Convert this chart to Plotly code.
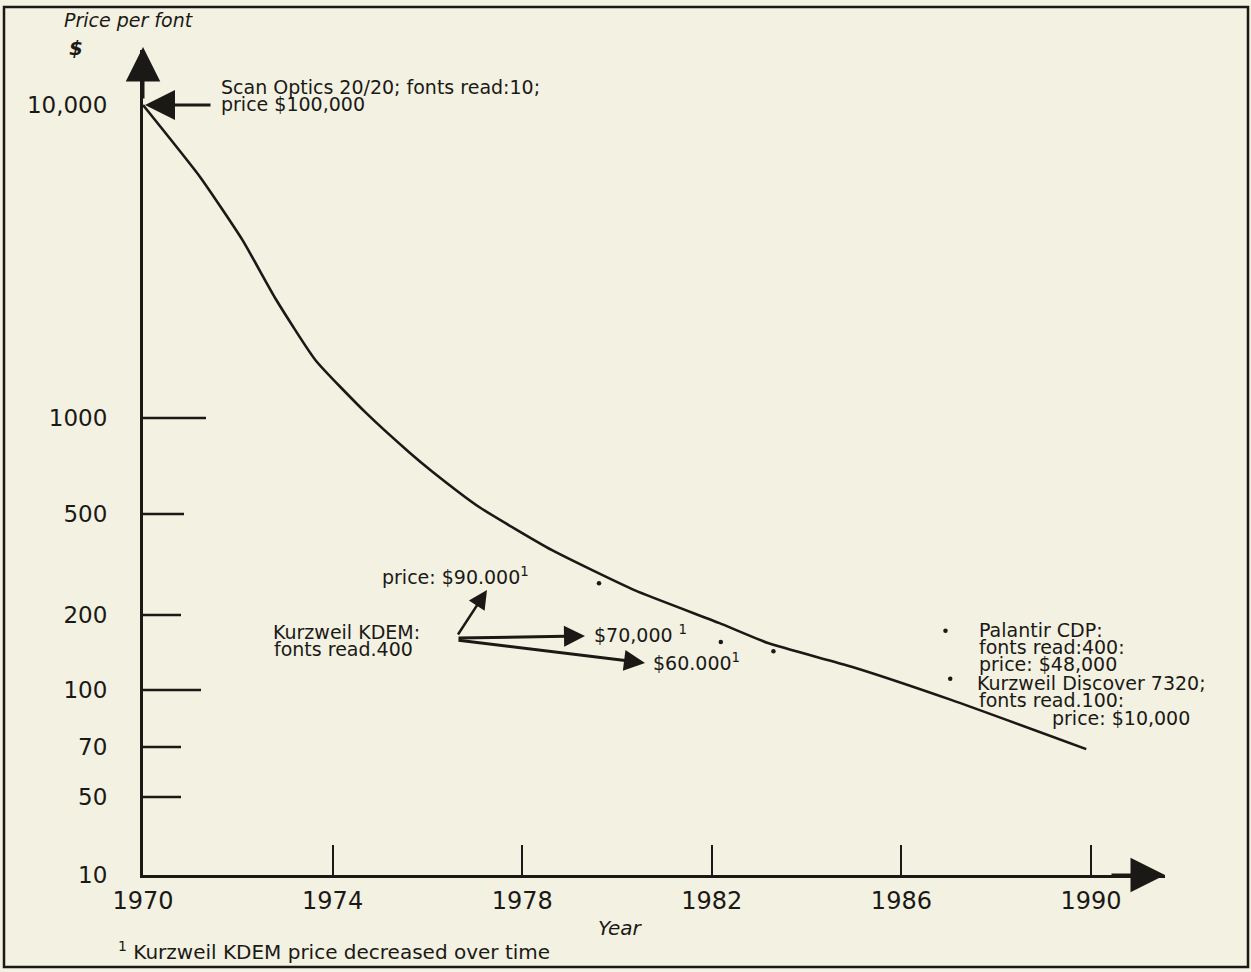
import numpy as np
import plotly.graph_objects as go

# ---------------- data ----------------
# hand-drawn (non-uniform) price axis: tick values, labels, and their level on the axis
PRICE_TICKS = [10, 50, 70, 100, 200, 500, 1000, 10000]
PRICE_TICK_LABELS = ["10", "50", "70", "100", "200", "500", "1000", "10,000"]
PRICE_TICK_LEVELS = [0, 78, 128, 185, 260, 361, 457, 770]

YEAR_TICKS = [1970, 1974, 1978, 1982, 1986, 1990]

curve_years = [1970.0, 1971.2, 1972.1, 1972.8, 1973.64, 1974.7, 1975.62,
               1976.1, 1977.1, 1978.63, 1980.38, 1982.15, 1983.2, 1984.95, 1987.05, 1989.9]
curve_prices = [10000, 5900, 3700, 2400, 1530, 1040, 780,
                680, 525, 360, 250, 186, 154, 124, 94, 69]

dot_years = [1979.62, 1982.19, 1983.3, 1986.93, 1987.03, 1992.0]
dot_prices = [267, 156, 143, 173, 111, 73]

# ---------------- scale helpers ----------------
def level(p):
    return np.interp(np.log10(np.asarray(p, dtype=float)),
                     np.log10(PRICE_TICKS), PRICE_TICK_LEVELS)

W_FIG, H_FIG = 1251, 972
L, T, R, B = 143, 50, 86, 97
PW, PH = W_FIG - L - R, H_FIG - T - B
PX_PER_YEAR = 47.4
X0 = 1970
X1 = X0 + PW / PX_PER_YEAR
Y1 = PH


def dx(px):
    return X0 + (px - L) / PX_PER_YEAR


def dy(py):
    return (T + PH) - py


def paperx(px):
    return (px - L) / PW


def papery(py):
    return (T + PH - py) / PH


INK = "#1b1915"
BG = "#f2f1e2"
FONT = "DejaVu Sans"

fig = go.Figure()
fig.add_trace(go.Scatter(x=curve_years, y=level(curve_prices), mode="lines",
                         line=dict(color=INK, width=2.6, shape="spline", smoothing=0.5),
                         hoverinfo="skip", showlegend=False))
fig.add_trace(go.Scatter(x=dot_years, y=level(dot_prices), mode="markers",
                         marker=dict(color=INK, size=4.5), cliponaxis=False,
                         hoverinfo="skip", showlegend=False))

shapes = []
# y tick marks with varying lengths (pixels)
tick_len = {50: 38, 70: 38, 100: 58, 200: 38, 500: 41, 1000: 63}
for p, lv in zip(PRICE_TICKS, PRICE_TICK_LEVELS):
    if p in tick_len:
        shapes.append(dict(type="line", xref="x", yref="y", xsizemode="pixel",
                           xanchor=X0, x0=0, x1=tick_len[p], y0=lv, y1=lv,
                           line=dict(color=INK, width=2.5)))
# frame
shapes.append(dict(type="rect", xref="paper", yref="paper",
                   x0=paperx(4), x1=paperx(1248), y0=papery(967), y1=papery(7),
                   line=dict(color=INK, width=2.5)))

ann = []


def text(s, px, py, size=19, anchor="left", italic=False, bold=False):
    f = dict(family=FONT, size=size, color=INK)
    if italic:
        f["style"] = "italic"
    if bold:
        f["weight"] = "bold"
    ann.append(dict(text=s, x=paperx(px), y=papery(py), xref="paper", yref="paper",
                    showarrow=False, xanchor=anchor, yanchor="middle", font=f))


def arrow(tx, ty, fx, fy, width=2.5, size=1.6):
    ann.append(dict(text="", x=dx(tx), y=dy(ty), ax=dx(fx), ay=dy(fy), xref="x", yref="y",
                    axref="x", ayref="y", showarrow=True, arrowhead=2, arrowsize=size,
                    arrowwidth=width, arrowcolor=INK, standoff=0, startstandoff=0))


text("Price per font", 62, 20, 19, italic=True)
text("$", 76, 48, 20, anchor="center", italic=True, bold=True)
text("Scan Optics 20/20; fonts read:10;", 219, 87)
text("price $100,000", 219, 104)
text("Kurzweil KDEM:", 271, 632)
text("fonts read.400", 272, 649)
text("price: $90.000<sup>1</sup>", 380, 576)
text("$70,000 <sup>1</sup>", 592, 634)
text("$60.000<sup>1</sup>", 651, 662)
text("Palantir CDP:", 977, 630)
text("fonts read:400:", 977, 647)
text("price: $48,000", 977, 664)
text("Kurzweil Discover 7320;", 975, 683)
text("fonts read.100:", 977, 700)
text("price: $10,000", 1050, 718)
text("Year", 620, 928, 20, anchor="center", italic=True)
text("<sup>1</sup> Kurzweil KDEM price decreased over time", 116, 951, 20)

# axis arrowheads
arrow(143, 47, 143, 100, width=3, size=2.3)
arrow(1165, 875, 1110, 875, width=3, size=2.3)
# Scan Optics pointer
arrow(145, 105, 212, 105, width=3, size=2.0)
# Kurzweil KDEM pointers
arrow(487, 590, 457, 636, width=2.5, size=1.5)
arrow(585, 636, 457, 638, width=3, size=1.4)
arrow(645, 663, 457, 640, width=3, size=1.4)

fig.update_layout(
    width=W_FIG, height=H_FIG,
    margin=dict(l=L, r=R, t=T, b=B, autoexpand=False),
    paper_bgcolor=BG, plot_bgcolor=BG,
    font=dict(family=FONT, color=INK),
    shapes=shapes, annotations=ann,
    xaxis=dict(range=[X0, X1], showgrid=False, zeroline=False, showline=True,
               linecolor=INK, linewidth=3, ticks="inside", ticklen=30, tickwidth=2,
               tickcolor=INK, tickvals=YEAR_TICKS, ticktext=[str(y) for y in YEAR_TICKS],
               tickfont=dict(size=24, family=FONT, color=INK), ticklabelstandoff=2),
    yaxis=dict(range=[0, Y1], showgrid=False, zeroline=False, showline=True,
               linecolor=INK, linewidth=3, ticks="", tickvals=PRICE_TICK_LEVELS,
               ticktext=PRICE_TICK_LABELS,
               tickfont=dict(size=23, family=FONT, color=INK), ticklabelstandoff=28),
)

fig.write_html("out.html",
               config={"displayModeBar": False},
               post_script="document.body.style.margin='0';"
                           "document.body.style.background='" + BG + "';")
